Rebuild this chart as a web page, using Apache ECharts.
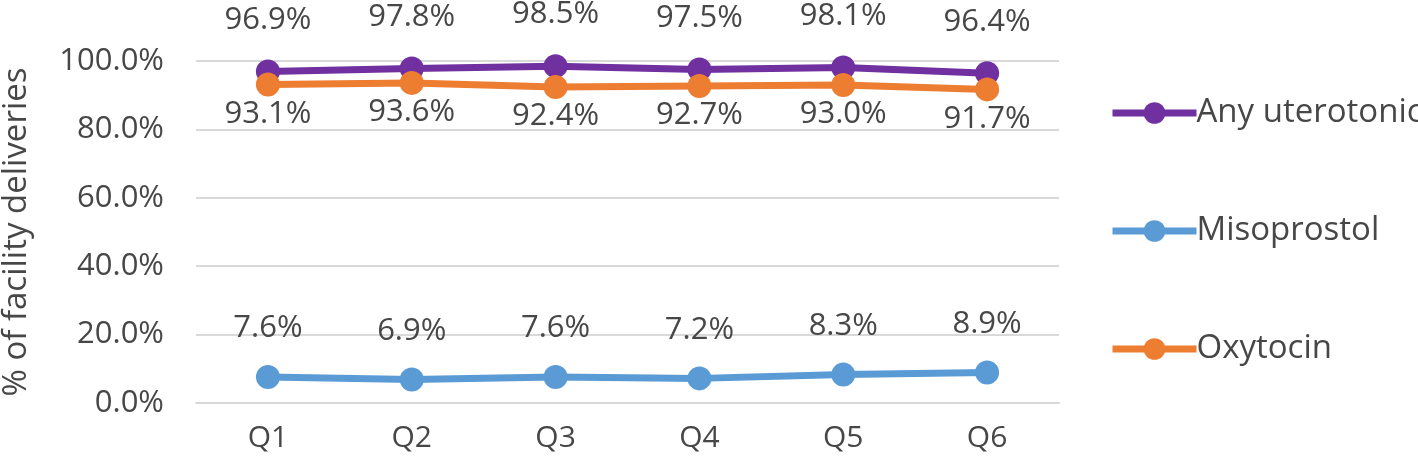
<!DOCTYPE html>
<html>
<head>
<meta charset="utf-8">
<script src="https://cdn.jsdelivr.net/npm/echarts@6/dist/echarts.min.js"></script>
<style>
  html, body { margin: 0; padding: 0; background: #fff; }
  #chart { width: 1418px; height: 465px; }
</style>
</head>
<body>
<div id="chart"></div>
<script>
const quarters = ["Q1", "Q2", "Q3", "Q4", "Q5", "Q6"];
const anyUterotonic = [96.9, 97.8, 98.5, 97.5, 98.1, 96.4];
const misoprostol = [7.6, 6.9, 7.6, 7.2, 8.3, 8.9];
const oxytocin = [93.1, 93.6, 92.4, 92.7, 93.0, 91.7];

const font = "Open Sans";
const textColor = "#474747";
const gridColor = "#d9d9d9";

function lineSeries(name, data, color, pos, dist) {
  return {
    name: name,
    type: "line",
    data: data,
    symbol: "circle",
    symbolSize: 24,
    itemStyle: { color: color },
    lineStyle: { color: color, width: 7 },
    label: {
      show: true,
      position: pos,
      distance: dist,
      formatter: p => p.value.toFixed(1) + "%",
      color: textColor,
      fontFamily: font,
      fontSize: 31
    },
    emphasis: { disabled: true },
    animation: false
  };
}

const chart = echarts.init(document.getElementById("chart"));
chart.setOption({
  backgroundColor: "#fff",
  grid: { left: 196, right: 359, top: 61, bottom: 62, outerBoundsMode: "none", containLabel: false },
  legend: {
    orient: "vertical",
    left: 1104,
    top: 84,
    itemWidth: 84,
    itemHeight: 27,
    itemGap: 70,
    lineStyle: { width: 7 },
    textStyle: { color: textColor, fontFamily: font, fontSize: 33, lineHeight: 48, padding: [0, 0, 0, -5] },
    data: ["Any uterotonic", "Misoprostol", "Oxytocin"]
  },
  xAxis: {
    type: "category",
    data: quarters,
    axisTick: { show: false },
    axisLine: { lineStyle: { color: gridColor, width: 2 } },
    axisLabel: { color: textColor, fontFamily: font, fontSize: 30, margin: 20 }
  },
  yAxis: {
    type: "value",
    min: 0,
    max: 100,
    interval: 20,
    name: "% of facility deliveries",
    nameLocation: "middle",
    nameGap: 163,
    nameTextStyle: { color: textColor, fontFamily: font, fontSize: 33 },
    axisLine: { show: false },
    axisTick: { show: false },
    axisLabel: { color: textColor, fontFamily: font, fontSize: 31, margin: 32, formatter: v => v.toFixed(1) + "%" },
    splitLine: { lineStyle: { color: gridColor, width: 2 } }
  },
  series: [
    lineSeries("Any uterotonic", anyUterotonic, "#7030a0", "top", 24),
    lineSeries("Misoprostol", misoprostol, "#5b9bd5", "top", 21),
    lineSeries("Oxytocin", oxytocin, "#ed7d31", "bottom", 2)
  ]
});
</script>
</body>
</html>
